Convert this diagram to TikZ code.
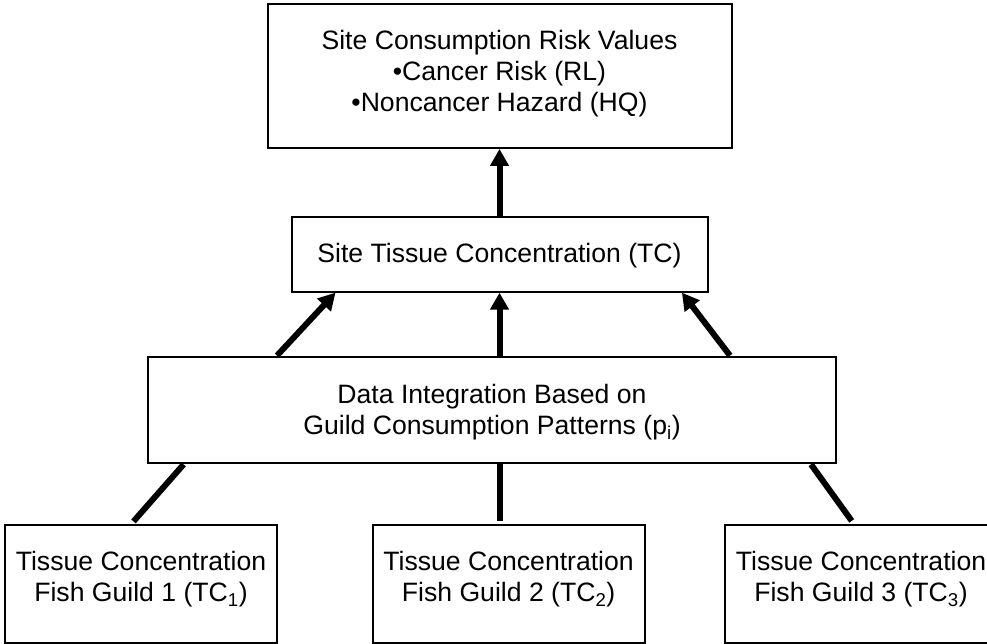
\documentclass[tikz,border=0pt]{standalone}
\usepackage{fontspec}
\setmainfont{Liberation Sans}
\usetikzlibrary{arrows.meta}
\begin{document}
\begin{tikzpicture}[x=1pt,y=-1pt,
  box/.style={draw, line width=2pt, inner sep=0pt},
  guildbox/.style={box, minimum width=272pt, minimum height=117.8pt},
  txt/.style={font=\fontsize{26.6}{31}\selectfont, align=center, inner sep=0pt},
  arr/.style={line width=6pt, -{Triangle[width=18pt,length=17pt]}},
  link/.style={line width=6pt}]
\useasboundingbox (0,0) rectangle (987,644);
\clip (0,0) rectangle (987,644);

% boxes
\node[box, minimum width=464pt, minimum height=143.8pt] (risk) at (499.5,76) {};
\node[box, minimum width=416pt, minimum height=74.3pt] (tc) at (499.5,254.5) {};
\node[box, minimum width=688pt, minimum height=106.8pt] (data) at (492,410) {};
\node[guildbox] (g1) at (141,583.8) {};
\node[guildbox] (g2) at (508.6,583.8) {};
\node[guildbox] (g3) at (861,583.8) {};

% box texts
\node[txt] (risk-t) at (499.5,74) {Site Consumption Risk Values\\
  •Cancer Risk (RL)\\ •Noncancer Hazard (HQ)};
\node[txt] (tc-t) at (499.5,256) {Site Tissue Concentration (TC)};
\node[txt] (data-t) at (492,412) {Data Integration Based on\\
  Guild Consumption Patterns (p\textsubscript{i})};
\node[txt] (g1-t) at (141,579.5) {Tissue Concentration\\ Fish Guild 1 (TC\textsubscript{1})};
\node[txt] (g2-t) at (508.6,579.5) {Tissue Concentration\\ Fish Guild 2 (TC\textsubscript{2})};
\node[txt] (g3-t) at (861,579.5) {Tissue Concentration\\ Fish Guild 3 (TC\textsubscript{3})};

% site tissue concentration -> risk values
\draw[arr] (tc.north) -- (risk.south);

% data integration -> site tissue concentration
\draw[arr] ([xshift=130pt]data.north west) -- ([xshift=45pt]tc.south west);
\draw[arr] (tc.south |- data.north) -- (tc.south);
\draw[arr] ([xshift=-107pt]data.north east) -- ([xshift=-26.6pt]tc.south east);

% fish guilds -> data integration
\draw[link] ([xshift=-7.5pt,yshift=2.5pt]g1.north) -- ([xshift=36.6pt]data.south west);
\draw[link] ([yshift=3pt]tc.south |- g2.north) -- (tc.south |- data.south);
\draw[link] ([xshift=-9.3pt,yshift=3pt]g3.north) -- ([xshift=-26pt]data.south east);
\end{tikzpicture}
\end{document}
